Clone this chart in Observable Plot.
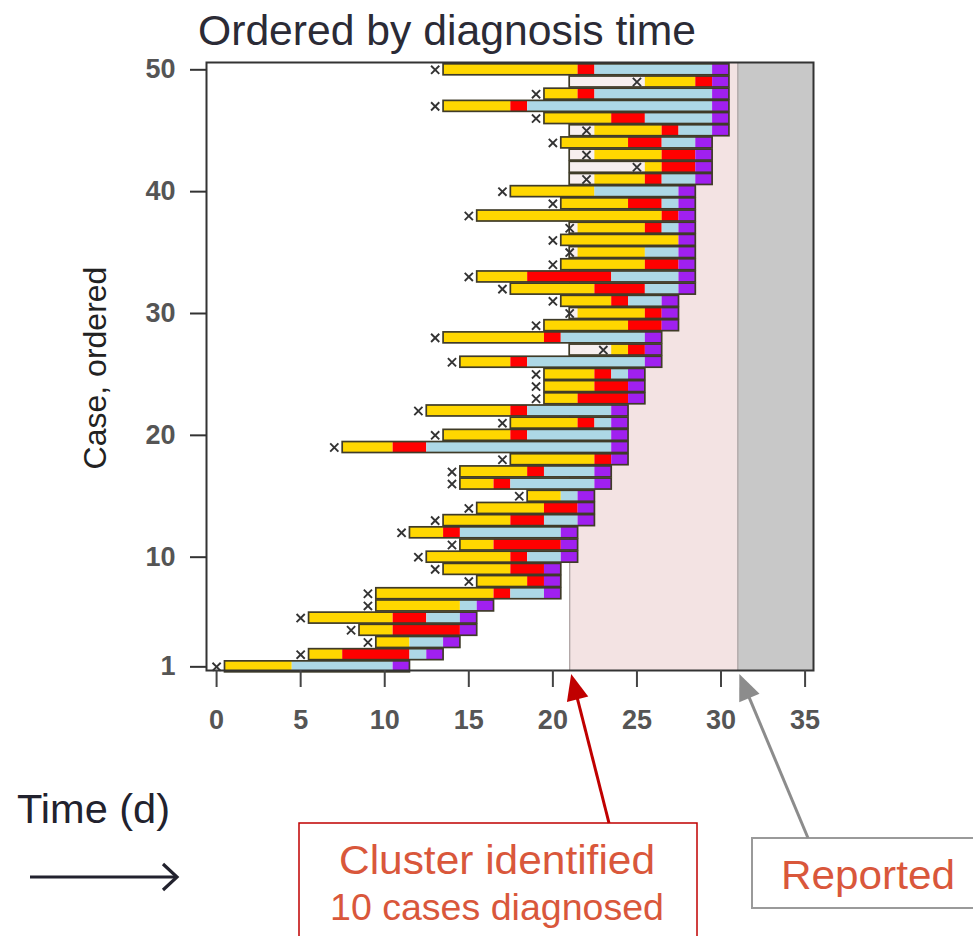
<!DOCTYPE html>
<html>
<head>
<meta charset="utf-8">
<script src="https://cdn.jsdelivr.net/npm/d3@7"></script>
<script src="https://cdn.jsdelivr.net/npm/@observablehq/plot@0.6"></script>
<style>
  html, body { margin: 0; padding: 0; background: #fff; overflow: hidden; }
  #wrap { position: relative; width: 973px; height: 936px; font-family: "Liberation Sans", Arial, Helvetica, sans-serif; }
  #wrap svg.overlay { position: absolute; left: 0; top: 0; pointer-events: none; }
</style>
</head>
<body>
<div id="wrap"></div>
<script>
// ---- data ----
const cases = [1,2,3,4,5,6,7,8,9,10,11,12,13,14,15,16,17,18,19,20,21,22,23,24,25,26,27,28,29,30,31,32,33,34,35,36,37,38,39,40,41,42,43,44,45,46,47,48,49,50];
// day of infection (the "x" marker)
const infectionDay = [0,5,9,8,5,9,9,15,13,12,14,11,13,15,18,14,14,17,7,13,17,12,19,19,19,14,23,13,19,21,20,17,15,20,21,20,21,15,20,17,22,25,22,20,22,19,13,19,25,13];
// pale box start (only cases infected after the cluster was identified)
const paleStart = [null,null,null,null,null,null,null,null,null,null,null,null,null,null,null,null,null,null,null,null,null,null,null,null,null,null,21,null,null,21,null,null,null,null,21,null,21,null,null,null,21,21,21,null,21,null,null,null,21,null];
// segment boundaries
const yellowStart = [0.5,5.5,9.5,8.5,5.5,9.5,9.5,15.5,13.5,12.5,14.5,11.5,13.5,15.5,18.5,14.5,14.5,17.5,7.5,13.5,17.5,12.5,19.5,19.5,19.5,14.5,23.5,13.5,19.5,21.5,20.5,17.5,15.5,20.5,21.5,20.5,21.5,15.5,20.5,17.5,22.5,25.5,22.5,20.5,22.5,19.5,13.5,19.5,25.5,13.5];
const yellowEnd = [4.5,7.5,11.5,10.5,10.5,14.5,16.5,18.5,17.5,17.5,16.5,13.5,17.5,19.5,20.5,16.5,18.5,22.5,10.5,17.5,21.5,17.5,21.5,22.5,22.5,17.5,24.5,19.5,24.5,25.5,23.5,22.5,18.5,25.5,25.5,27.5,25.5,26.5,24.5,22.5,25.5,26.5,26.5,24.5,26.5,23.5,17.5,21.5,28.5,21.5];
const redEnd = [4.5,11.5,11.5,14.5,12.5,14.5,17.5,19.5,19.5,18.5,20.5,14.5,19.5,21.5,20.5,17.5,19.5,23.5,12.5,18.5,22.5,18.5,24.5,24.5,23.5,18.5,25.5,20.5,26.5,26.5,24.5,25.5,23.5,27.5,25.5,27.5,26.5,27.5,26.5,22.5,26.5,28.5,28.5,26.5,27.5,25.5,18.5,22.5,29.5,22.5];
const blueEnd = [10.5,12.5,13.5,14.5,14.5,15.5,19.5,19.5,19.5,20.5,20.5,20.5,21.5,21.5,21.5,22.5,22.5,23.5,23.5,23.5,23.5,23.5,24.5,24.5,24.5,25.5,25.5,25.5,26.5,26.5,26.5,27.5,27.5,27.5,27.5,27.5,27.5,27.5,27.5,27.5,28.5,28.5,28.5,28.5,29.5,29.5,29.5,29.5,29.5,29.5];
const purpleEnd = [11.5,13.5,14.5,15.5,15.5,16.5,20.5,20.5,20.5,21.5,21.5,21.5,22.5,22.5,22.5,23.5,23.5,24.5,24.5,24.5,24.5,24.5,25.5,25.5,25.5,26.5,26.5,26.5,27.5,27.5,27.5,28.5,28.5,28.5,28.5,28.5,28.5,28.5,28.5,28.5,29.5,29.5,29.5,29.5,30.5,30.5,30.5,30.5,30.5,30.5];
const clusterDay = 21;
const reportDay = 31;
const xMin = -0.6, xMax = 35.5;
const yMin = 0.7, yMax = 50.6;
const xTicks = [0,5,10,15,20,25,30,35];
const yTicks = [1,10,20,30,40,50];
const stateNames = ["pale","yellow","red","blue","purple"];
const stateColors = ["#f7efef","#FFD700","#FF0000","#ADD8E6","#A020F0"];

// ---- build tables ----
const rows = cases.map((c, i) => ({
  case: c, infection: infectionDay[i],
  start: paleStart[i] != null ? paleStart[i] : yellowStart[i],
  end: purpleEnd[i]
}));
const segments = [];
cases.forEach((c, i) => {
  const parts = [
    [paleStart[i], yellowStart[i], "pale"],
    [yellowStart[i], yellowEnd[i], "yellow"],
    [yellowEnd[i], redEnd[i], "red"],
    [redEnd[i], blueEnd[i], "blue"],
    [blueEnd[i], purpleEnd[i], "purple"]
  ];
  for (const [a, z, s] of parts) if (a != null && z > a) segments.push({case: c, x1: a, x2: z, state: s});
});
const half = 0.45;

const W = 973, H = 936;
const chart = Plot.plot({
  width: W, height: H,
  marginLeft: 206, marginRight: 160, marginTop: 62, marginBottom: 266,
  x: {domain: [xMin, xMax]},
  y: {domain: [yMin, yMax]},
  color: {domain: stateNames, range: stateColors},
  style: {fontFamily: "'Liberation Sans', Arial, Helvetica, sans-serif", background: "transparent", overflow: "visible"},
  marks: [
    Plot.rect([{x1: clusterDay, x2: reportDay}], {x1: "x1", x2: "x2", fill: "#f3e3e3"}),
    Plot.rect([{x1: reportDay, x2: xMax}], {x1: "x1", x2: "x2", fill: "#c8c8c8"}),
    Plot.ruleX([clusterDay, reportDay], {stroke: "#b0a6a6", strokeWidth: 1.3}),
    Plot.rect(segments, {x1: "x1", x2: "x2", y1: d => d.case - half, y2: d => d.case + half, fill: "state"}),
    Plot.rect(rows, {x1: "start", x2: "end", y1: d => d.case - half, y2: d => d.case + half, fill: "none", stroke: "#3f3b28", strokeWidth: 1.7}),
    Plot.dot(rows, {x: "infection", y: "case", symbol: "times", r: 3.8, stroke: "#333", strokeWidth: 1.9}),
    Plot.frame({stroke: "#333", strokeWidth: 2}),
    Plot.axisX({ticks: xTicks, tickSize: 17, tickPadding: 22, fontSize: 27, fontWeight: "bold", stroke: "#444", strokeWidth: 2, fill: "#555", label: null}),
    Plot.axisY({ticks: yTicks, tickSize: 16, tickPadding: 15, fontSize: 27, fontWeight: "bold", stroke: "#333", strokeWidth: 2, fill: "#555", label: null})
  ]
});
const wrap = document.getElementById("wrap");
wrap.appendChild(chart);

// ---- annotations overlay ----
const xs = chart.scale("x");
const ys = chart.scale("y");
const svg = d3.select(wrap).append("svg").attr("class", "overlay")
  .attr("width", W).attr("height", H)
  .style("font-family", "'Liberation Sans', Arial, Helvetica, sans-serif");

svg.append("text").attr("x", 447).attr("y", 45).attr("text-anchor", "middle")
  .attr("font-size", 43).attr("fill", "#2b2b36")
  .attr("textLength", 498).attr("lengthAdjust", "spacingAndGlyphs")
  .text("Ordered by diagnosis time");

svg.append("text").attr("transform", "translate(106,368) rotate(-90)").attr("text-anchor", "middle")
  .attr("font-size", 32).attr("fill", "#222")
  .text("Case, ordered");

svg.append("text").attr("x", 17).attr("y", 823)
  .attr("font-size", 40).attr("fill", "#22222e")
  .attr("textLength", 153).attr("lengthAdjust", "spacingAndGlyphs")
  .text("Time (d)");

// time arrow
svg.append("line").attr("x1", 30).attr("y1", 877).attr("x2", 176).attr("y2", 877)
  .attr("stroke", "#22222e").attr("stroke-width", 3);
svg.append("polyline").attr("points", "163,864 177,877 163,890")
  .attr("fill", "none").attr("stroke", "#22222e").attr("stroke-width", 3.2);

// boxes
svg.append("rect").attr("x", 299).attr("y", 823).attr("width", 398).attr("height", 140)
  .attr("fill", "#fff").attr("stroke", "#c00000").attr("stroke-width", 1.5);
svg.append("text").attr("x", 497).attr("y", 874).attr("text-anchor", "middle")
  .attr("font-size", 40).attr("fill", "#d9573b")
  .attr("textLength", 316).attr("lengthAdjust", "spacingAndGlyphs")
  .text("Cluster identified");
svg.append("text").attr("x", 497).attr("y", 920).attr("text-anchor", "middle")
  .attr("font-size", 36).attr("fill", "#d9573b")
  .attr("textLength", 334).attr("lengthAdjust", "spacingAndGlyphs")
  .text("10 cases diagnosed");

svg.append("rect").attr("x", 752).attr("y", 838).attr("width", 260).attr("height", 70)
  .attr("fill", "#fff").attr("stroke", "#9a9a9a").attr("stroke-width", 2);
svg.append("text").attr("x", 868).attr("y", 889).attr("text-anchor", "middle")
  .attr("font-size", 40).attr("fill", "#d9573b")
  .attr("textLength", 174).attr("lengthAdjust", "spacingAndGlyphs")
  .text("Reported");

function arrow(x0, y0, x1, y1, color, w, headLen, headW) {
  const dx = x1 - x0, dy = y1 - y0, L = Math.hypot(dx, dy), ux = dx / L, uy = dy / L;
  const bx = x1 - ux * headLen, by = y1 - uy * headLen;
  svg.append("line").attr("x1", x0).attr("y1", y0).attr("x2", bx + ux * 2).attr("y2", by + uy * 2)
    .attr("stroke", color).attr("stroke-width", w);
  svg.append("polygon")
    .attr("points", `${x1},${y1} ${bx - uy * headW},${by + ux * headW} ${bx + uy * headW},${by - ux * headW}`)
    .attr("fill", color);
}
const axisBottom = ys.apply(yMin);
arrow(609, 823, xs.apply(clusterDay) + 2, axisBottom + 4, "#c00000", 3, 26, 11);
arrow(808, 838, xs.apply(reportDay) + 2, axisBottom + 4, "#8c8c8c", 3, 26, 11);
</script>
</body>
</html>
